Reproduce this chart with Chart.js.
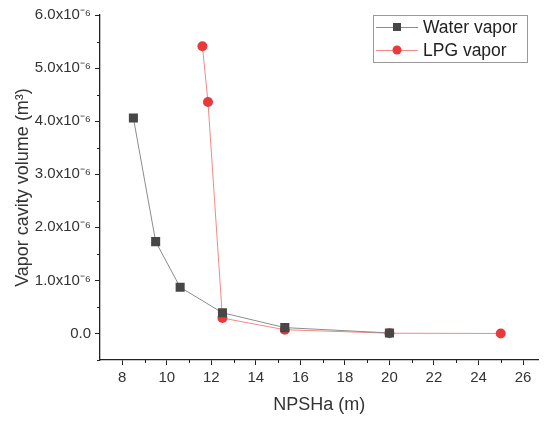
<!DOCTYPE html>
<html>
<head>
<meta charset="utf-8">
<script src="https://cdn.jsdelivr.net/npm/chart.js@4"></script>
<style>
  body { margin: 0; background: #fff; }
  #wrap { width: 545px; height: 421px; }
</style>
</head>
<body>
<div id="wrap"><canvas id="myChart" width="545" height="421"></canvas></div>
<script>
// data
var waterX = [8.5, 9.5, 10.6, 12.5, 15.3, 20];
var waterY = [4.06e-6, 1.73e-6, 0.87e-6, 0.39e-6, 0.11e-6, 0.01e-6];
var lpgX = [11.6, 11.85, 12.5, 15.3, 20, 25];
var lpgY = [5.41e-6, 4.36e-6, 0.29e-6, 0.07e-6, 0.005e-6, 0.0];

var xTicks = [8, 10, 12, 14, 16, 18, 20, 22, 24, 26];
var xMinor = [9, 11, 13, 15, 17, 19, 21, 23, 25];
var yTicks = [0, 1e-6, 2e-6, 3e-6, 4e-6, 5e-6, 6e-6];
var yTickLabels = ["0.0", "1.0x10\u207B\u2076", "2.0x10\u207B\u2076", "3.0x10\u207B\u2076",
                   "4.0x10\u207B\u2076", "5.0x10\u207B\u2076", "6.0x10\u207B\u2076"];
var yMinor = [-0.5e-6, 0.5e-6, 1.5e-6, 2.5e-6, 3.5e-6, 4.5e-6, 5.5e-6];

function pairs(xs, ys) {
  return xs.map((x, i) => ({x: x, y: ys[i]}));
}

const FONT = "'Liberation Sans', Arial, sans-serif";

// short minor ticks + boxed legend
const extras = {
  id: "extras",
  afterDraw(chart) {
    const ctx = chart.ctx;
    const xs = chart.scales.x, ys = chart.scales.y;
    const area = chart.chartArea;
    ctx.save();
    ctx.strokeStyle = "#222";
    ctx.lineWidth = 1;
    ctx.beginPath();
    xMinor.forEach(v => {
      const px = Math.round(xs.getPixelForValue(v)) + 0.5;
      ctx.moveTo(px, area.bottom);
      ctx.lineTo(px, area.bottom + 3);
    });
    yMinor.forEach(v => {
      const py = Math.round(ys.getPixelForValue(v)) + 0.5;
      ctx.moveTo(area.left, py);
      ctx.lineTo(area.left - 3, py);
    });
    ctx.stroke();

    // legend box
    const bx = 373, by = 15, bw = 154, bh = 47;
    ctx.strokeStyle = "#999";
    ctx.strokeRect(bx + 0.5, by + 0.5, bw, bh);
    ctx.font = "17.5px " + FONT;
    ctx.textBaseline = "middle";
    chart.data.datasets.forEach((ds, i) => {
      const cy = by + 12 + i * 23;
      ctx.strokeStyle = ds.borderColor;
      ctx.lineWidth = 1;
      ctx.beginPath();
      ctx.moveTo(bx + 3, cy + 0.5);
      ctx.lineTo(bx + 45, cy + 0.5);
      ctx.stroke();
      ctx.fillStyle = ds.pointBackgroundColor;
      ctx.beginPath();
      if (ds.pointStyle === "rect") {
        ctx.rect(bx + 20, cy - 4, 8, 8);
      } else {
        ctx.arc(bx + 24, cy, 4.5, 0, Math.PI * 2);
      }
      ctx.fill();
      ctx.fillStyle = "#222";
      ctx.fillText(ds.label, bx + 50, cy + 1);
    });
    ctx.restore();
  }
};

new Chart("myChart", {
  type: "scatter",
  data: {
    datasets: [{
      label: "Water vapor",
      data: pairs(waterX, waterY),
      showLine: true,
      borderColor: "#8c8c8c",
      borderWidth: 1,
      pointStyle: "rect",
      pointRadius: 6.4,
      pointHoverRadius: 6.4,
      pointBackgroundColor: "#474747",
      pointBorderColor: "#474747",
      pointBorderWidth: 0
    }, {
      label: "LPG vapor",
      data: pairs(lpgX, lpgY),
      showLine: true,
      borderColor: "#ef8a86",
      borderWidth: 1,
      pointStyle: "circle",
      pointRadius: 5,
      pointHoverRadius: 5,
      pointBackgroundColor: "#e8393d",
      pointBorderColor: "#e8393d",
      pointBorderWidth: 0
    }]
  },
  options: {
    responsive: false,
    animation: false,
    layout: {padding: {top: 15, right: 4, left: 0, bottom: 0}},
    plugins: {
      legend: {display: false},
      tooltip: {enabled: false}
    },
    scales: {
      x: {
        type: "linear",
        min: 7,
        max: 26.7,
        border: {display: true, color: "#222", width: 1.3},
        grid: {drawOnChartArea: false, drawTicks: true, tickLength: 5, tickColor: "#222"},
        afterBuildTicks: s => { s.ticks = xTicks.map(v => ({value: v})); },
        afterFit: s => { s.height = 61; },
        ticks: {
          color: "#333",
          font: {family: FONT, size: 15},
          padding: 4,
          maxRotation: 0,
          callback: v => String(v)
        },
        title: {
          display: true,
          text: "NPSHa (m)",
          color: "#333",
          font: {family: FONT, size: 18},
          padding: {top: 2, bottom: 5}
        }
      },
      y: {
        type: "linear",
        min: -0.5e-6,
        max: 6e-6,
        border: {display: true, color: "#222", width: 1.3},
        grid: {drawOnChartArea: false, drawTicks: true, tickLength: 5, tickColor: "#222"},
        afterBuildTicks: s => { s.ticks = yTicks.map(v => ({value: v})); },
        afterFit: s => { s.width = 100; },
        ticks: {
          color: "#333",
          font: {family: FONT, size: 15},
          padding: 4,
          callback: (v) => {
            const i = yTicks.findIndex(t => Math.abs(t - v) < 1e-12);
            return i >= 0 ? yTickLabels[i] : "";
          }
        },
        title: {
          display: true,
          text: "Vapor cavity volume (m\u00B3)",
          color: "#333",
          font: {family: FONT, size: 18},
          padding: {top: 12, bottom: 0}
        }
      }
    }
  },
  plugins: [extras]
});
</script>
</body>
</html>
